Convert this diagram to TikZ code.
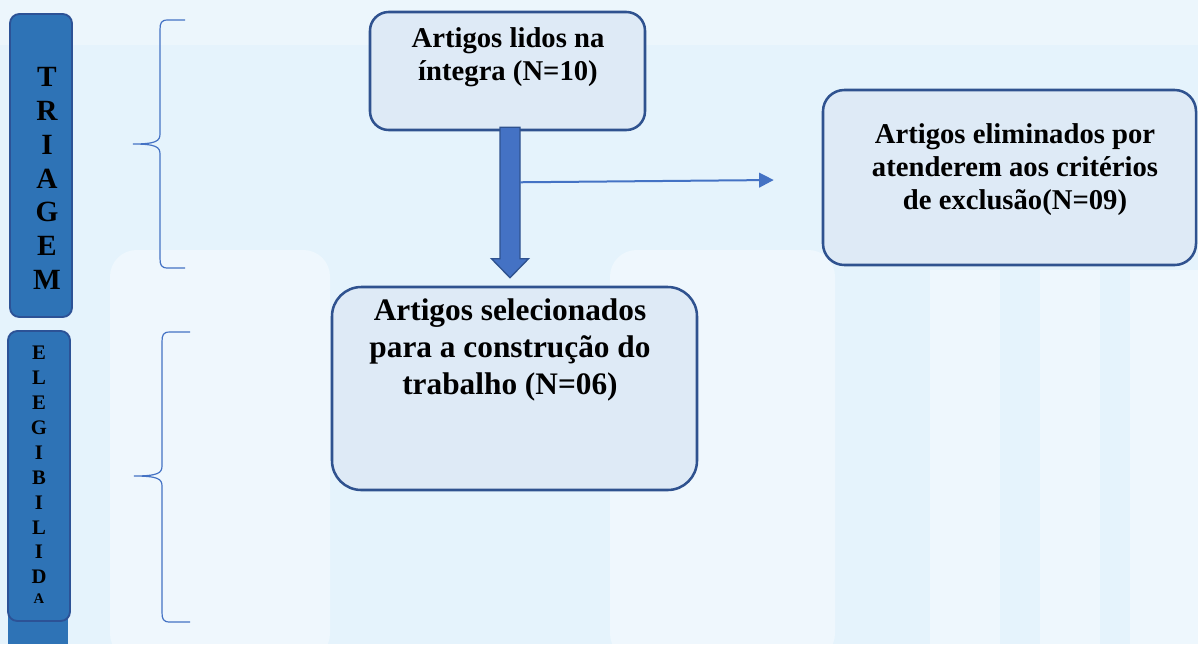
\documentclass[tikz,border=0pt]{standalone}
\usepackage{fontspec}
\setmainfont{Liberation Serif}
\usetikzlibrary{calc,arrows.meta}
\definecolor{fundo}{RGB}{229,243,252}
\definecolor{barra}{RGB}{46,115,182}
\definecolor{barraborda}{RGB}{44,82,150}
\definecolor{caixafundo}{RGB}{222,234,246}
\definecolor{caixaborda}{RGB}{47,82,143}
\definecolor{seta}{RGB}{68,114,196}
\tikzset{
  caixa/.style={draw=caixaborda, fill=caixafundo, line width=1.9pt, rounded corners=14pt},
  faixa/.style={draw=barraborda, fill=barra, line width=1.4pt, rounded corners=7pt},
  letra/.style={font=\bfseries, inner sep=0pt},
  texto/.style={font=\bfseries, align=center, inner sep=0pt},
  chave/.style={draw=seta, line width=0.9pt},
  setagrossa/.style={fill=seta, draw=caixaborda, line width=1pt},
}
\begin{document}
\begin{tikzpicture}[x=0.75pt, y=-0.75pt]
		\useasboundingbox (0,0) rectangle (1198,644);
		% fundo com marca d'agua
		\fill[fundo] (0,0) rectangle (1198,644);
		\fill[white, opacity=0.3] (0,0) rectangle (1198,45);
		\fill[white, opacity=0.4, rounded corners=20pt] (110,250) rectangle (330,660);
		\fill[white, opacity=0.4, rounded corners=20pt] (610,250) rectangle (835,660);
		\fill[white, opacity=0.35] (930,270) rectangle (1000,644);
		\fill[white, opacity=0.35] (1040,270) rectangle (1100,644);
		\fill[white, opacity=0.35] (1130,270) rectangle (1198,644);
		% faixas laterais
		\node[faixa, minimum width=46.5pt, minimum height=227.25pt] (triagem) at (41,165.5) {};
		\foreach \l [count=\i] in {T,R,I,A,G,E,M}
			\node[letra, font=\fontsize{22}{22}\bfseries] (t\i) at (47, 77+33.8*\i-33.8) {\l};
		\fill[barra] (8,600) rectangle (68,644);
		\node[faixa, minimum width=46.5pt, minimum height=217.5pt] (elegib) at (39,476) {};
		\foreach \l [count=\i] in {E,L,E,G,I,B,I,L,I,D}
			\node[letra, font=\fontsize{15.5}{15.5}\bfseries] (e\i) at (39, 353+24.9*\i-24.9) {\l};
		\node[letra, font=\fontsize{11}{11}\bfseries] (e11) at (39,599) {A};
		% chaves
		\draw[chave] (185,20) -- (168,20) .. controls (161,20) and (160,23) .. (160,30) -- (160,134)
			.. controls (160,141) and (156,144) .. (133,144) .. controls (156,144) and (160,147) .. (160,154)
			-- (160,258) .. controls (160,265) and (161,268) .. (168,268) -- (185,268);
		\draw[chave] (190,332) -- (170,332) .. controls (163,332) and (162,335) .. (162,342) -- (162,466)
			.. controls (162,473) and (158,476) .. (134,476) .. controls (158,476) and (162,479) .. (162,486)
			-- (162,612) .. controls (162,619) and (163,622) .. (170,622) -- (190,622);
		% caixas
		\node[caixa, minimum width=206.25pt, minimum height=88.5pt] (lidos) at (507.5,71) {};
		\node[texto, font=\fontsize{21.5}{24.75}\bfseries] (tlidos) at (508,57) {Artigos lidos na\\íntegra (N=10)};
		\node[caixa, rounded corners=16pt, minimum width=279.75pt, minimum height=131.25pt] (elim) at (1009.5,177.5) {};
		\node[texto, font=\fontsize{21.5}{24.75}\bfseries] (telim) at (1015,170) {Artigos eliminados por\\atenderem aos critérios\\de exclusão(N=09)};
		\node[caixa, rounded corners=22pt, minimum width=273.75pt, minimum height=152.25pt] (sel) at (514.5,388.5) {};
		\node[texto, font=\fontsize{23.5}{27.5}\bfseries] (tsel) at (510,350) {Artigos selecionados\\para a construção do\\trabalho (N=06)};
		% setas
		\coordinate (topo) at ($(lidos.south)+(2.5,-4)$);
		\coordinate (ponta) at ($(sel.north)+(-4.5,-8)$);
		\filldraw[setagrossa] ($(topo)+(-10,0)$) -- ($(topo)+(10,0)$) -- ($(ponta)+(10,-19)$)
			-- ($(ponta)+(18.5,-19)$) -- (ponta) -- ($(ponta)+(-18.5,-19)$) -- ($(ponta)+(-10,-19)$) -- cycle;
		\coordinate (ramo) at ($(topo)+(10,55)$);
		\coordinate (fim) at ($(elim.west)+(-48,2.5)$);
		\draw[seta, line width=1.5pt, -{Triangle[length=11pt,width=11pt]}] (ramo) -- (fim);
\end{tikzpicture}
\end{document}
